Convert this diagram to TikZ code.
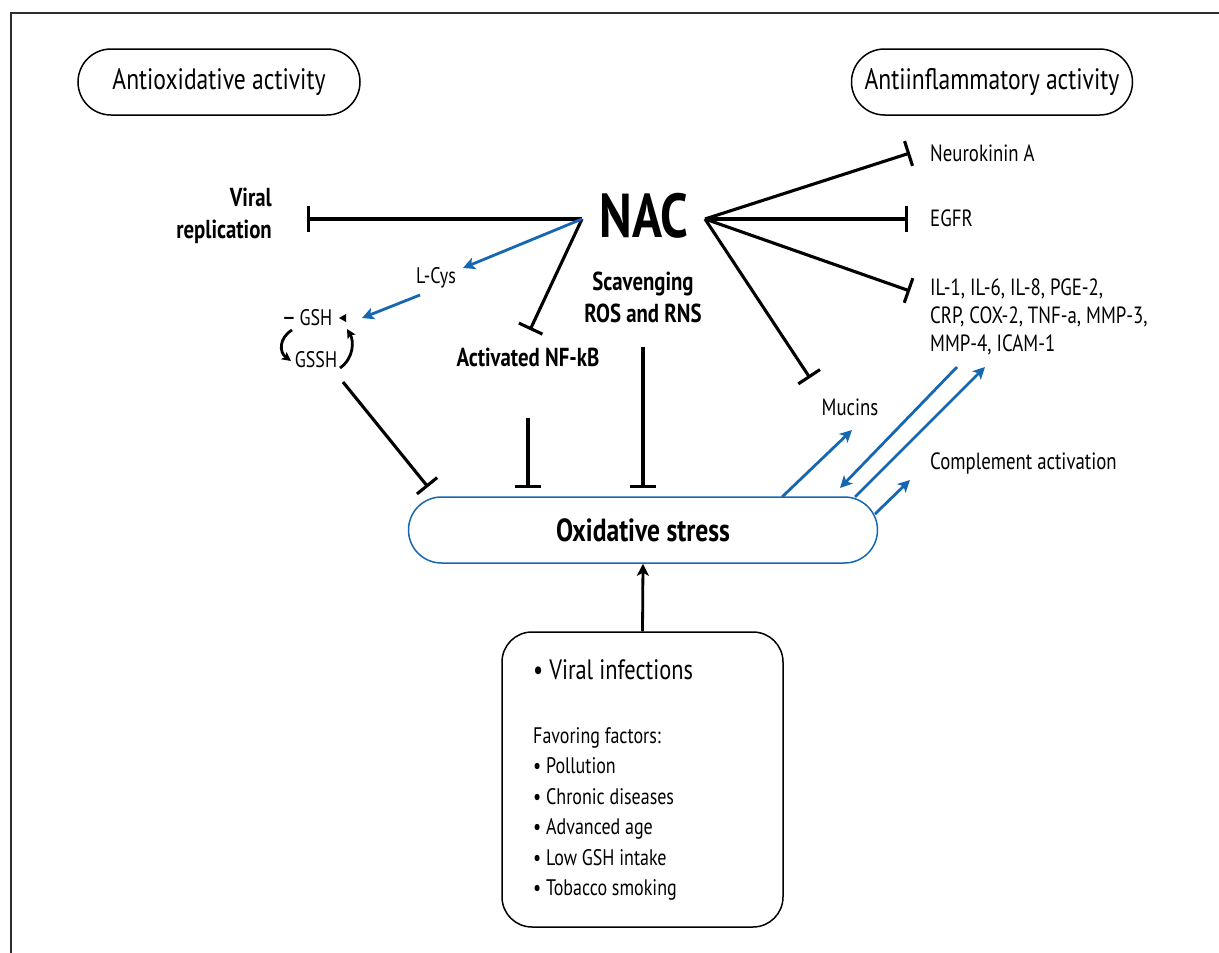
\documentclass[tikz,border=0pt]{standalone}
\usepackage{fontspec}
\setmainfont{PT Sans}[FakeStretch=0.8]
\usetikzlibrary{arrows.meta}
\definecolor{nacblue}{RGB}{22,103,178}
\definecolor{framegray}{RGB}{45,45,45}
\newcommand{\fsz}[2]{\fontsize{#1}{#2}\selectfont}

\begin{document}
\begin{tikzpicture}[x=1pt,y=-1pt,>=Stealth,
  pill/.style={draw,line width=1.5pt,rounded corners=33pt,minimum width=282pt,minimum height=66pt,font=\fsz{29.5}{34}},
  oxpill/.style={draw=nacblue,line width=1.5pt,rounded corners=33pt,minimum width=469pt,minimum height=66pt,font=\fsz{32}{36}\bfseries},
  lbl/.style={font=\fsz{23.5}{28},inner sep=0pt},
  blbl/.style={font=\fsz{26}{32}\bfseries,inner sep=0pt},
  inhibit/.style={line width=3.1pt,-{Bar[width=26pt]}},
  bluearrow/.style={nacblue,line width=2.8pt,-{Stealth[length=12pt,width=12pt,inset=3pt]}},
  cyclearrow/.style={line width=2.8pt,-{Stealth[length=9pt,width=9pt,inset=2pt]}}]
\useasboundingbox (0,0) rectangle (1219,953);
\draw[framegray,line width=2pt] (1219,13) -- (11,13) -- (11,953);

% headers
\node[pill] (antiox) at (219,82) {Antioxidative activity};
\node[pill,minimum width=281pt] (antiinf) at (992,82) {Antiinflammatory activity};

% NAC and its apexes
\node[font=\fsz{62}{62}\bfseries,inner sep=0pt] (nac) at (644,216) {NAC};
\coordinate (nacL) at (582,219);
\coordinate (nacR) at (705,219);

% left side
\node[blbl,align=right,anchor=east] (virrep) at (272,216) {Viral\\replication};
\node[lbl,font=\fsz{22.5}{28}] (lcys) at (436,278) {L-Cys};
\node[lbl,font=\fsz{22.5}{28}] (gsh) at (316,318) {GSH};
\node[lbl,font=\fsz{28}{28},anchor=base] (gshdash) at (289,326) {–};
\node[lbl,font=\fsz{22.5}{28}] (gssh) at (316,360) {GSSH};
\node[blbl] (nfkb) at (528,357) {Activated NF-kB};
\node[blbl,align=center] (scav) at (643,297) {Scavenging\\ROS and RNS};

% right side
\node[lbl,anchor=west] (nka) at (930,153) {Neurokinin A};
\node[lbl,anchor=west] (egfr) at (930,218) {EGFR};
\node[lbl,anchor=north west,align=left] (ilist) at (930,279) {IL-1, IL-6, IL-8, PGE-2,\\CRP, COX-2, TNF-a, MMP-3,\\MMP-4, ICAM-1};
\node[lbl] (mucins) at (850,407) {Mucins};
\node[lbl,anchor=west] (compl) at (930,463) {Complement activation};

% oxidative stress and causes
\node[oxpill] (oxs) at (643,530) {Oxidative stress};
\node[draw,line width=1.5pt,rounded corners=30pt,minimum width=281pt,minimum height=295pt] (viral) at (642.5,779.5) {};
\node[font=\fsz{28}{32},anchor=west,inner sep=0pt] (vinf) at (533,670) {• Viral infections};
\node[lbl,anchor=north west,align=left,font=\fsz{22.5}{30.5}] (factors) at (533,727) {Favoring factors:\\• Pollution\\• Chronic diseases\\• Advanced age\\• Low GSH intake\\• Tobacco smoking};

% free ends
\coordinate (vrEnd) at (307,219);
\coordinate (nfEnd) at (530,330);
\coordinate (nkEnd) at (910,153);
\coordinate (egEnd) at (908,219);
\coordinate (ilEnd) at (910,291);
\coordinate (muEnd) at (810,378);
\coordinate (nfTop) at (528,418);
\coordinate (nfBot) at (528,488);
\coordinate (scTop) at (643,347);
\coordinate (scBot) at (643,488);
\coordinate (gsTop) at (343,382);
\coordinate (gsBot) at (428,487);
\coordinate (lcysIn) at (463,268);
\coordinate (lcysOut) at (420,295);
\coordinate (gshIn) at (362,318);
\coordinate (muOut) at (782,497);
\coordinate (muIn) at (852,430);
\coordinate (ilOut) at (957,367);
\coordinate (oxIn) at (840,488);
\coordinate (oxOut) at (855,497);
\coordinate (ilIn) at (985,367);
\coordinate (coOut) at (875,514);
\coordinate (coIn) at (910,480);

% inhibitions
\draw[inhibit] (nacL) -- (vrEnd);
\draw[inhibit] (nacL) -- (nfEnd);
\draw[inhibit] (nacR) -- (nkEnd);
\draw[inhibit] (nacR) -- (egEnd);
\draw[inhibit] (nacR) -- (ilEnd);
\draw[inhibit] (nacR) -- (muEnd);
\draw[inhibit] (nfTop) -- (nfBot);
\draw[inhibit] (scTop) -- (scBot);
\draw[inhibit] (gsTop) -- (gsBot);

% glutathione path
\draw[bluearrow] (nacL) -- (lcysIn);
\draw[bluearrow] (lcysOut) -- (gshIn);
\fill (339,318) -- (346,314) -- (346,322) -- cycle;
\draw[cyclearrow] (292,330) .. controls (279,338) and (279,352) .. (291,361);
\draw[cyclearrow] (340,368) .. controls (354,358) and (354,341) .. (347,329);

% oxidative stress effects
\draw[bluearrow] (muOut) -- (muIn);
\draw[bluearrow] (ilOut) -- (oxIn);
\draw[bluearrow] (oxOut) -- (ilIn);
\draw[bluearrow] (coOut) -- (coIn);
\draw[line width=2.8pt,-{Stealth[length=12pt,width=12pt,inset=3pt]}] (viral.north) -- (oxs.south);
\end{tikzpicture}
\end{document}
